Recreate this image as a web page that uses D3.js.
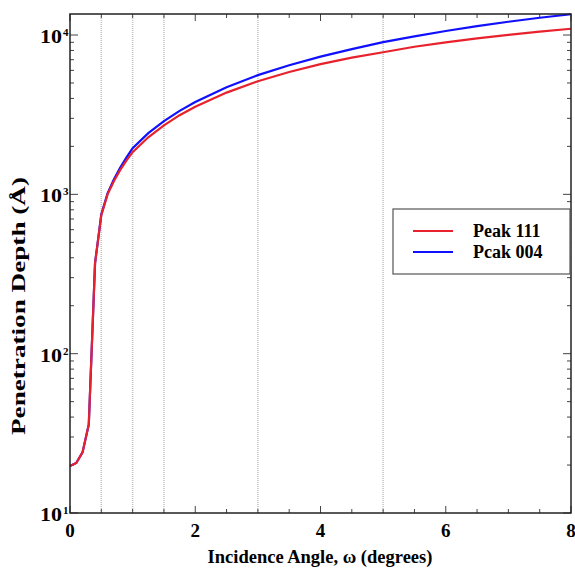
<!DOCTYPE html>
<html><head><meta charset="utf-8">
<script src="https://cdn.jsdelivr.net/npm/d3@7"></script>
<style>body{margin:0;background:#fff}svg{display:block}text{font-family:"Liberation Serif","Times New Roman",serif;font-weight:bold;fill:#000}</style>
</head><body>
<svg id="c" width="575" height="570"></svg>
<script>
// Incidence angle (degrees)
const omega = [0,0.1,0.2,0.3,0.4,0.5,0.6,0.7,0.8,0.9,1,1.25,1.5,1.75,2,2.5,3,3.5,4,4.5,5,5.5,6,6.5,7,7.5,8];
// Penetration depth (Å), Peak 111
const peak111 = [19.7,20.6,24,36,370,740,1000,1210,1420,1630,1840,2280,2710,3140,3550,4350,5130,5860,6560,7220,7800,8440,9000,9530,10030,10490,10950];
// Penetration depth (Å), Peak 004
const peak004 = [19.7,20.6,24,36,370,750,1015,1240,1470,1700,1950,2420,2880,3340,3800,4700,5600,6460,7320,8160,9020,9800,10600,11360,12120,12840,13500];
const seriesNames = ["Peak 111","Pcak 004"];
const xTicks = [0,2,4,6,8];
const yTickExp = [1,2,3,4];
const gridAt = [0.5,1,1.5,3,5];

const svg = d3.select("#c");
const L=70,R=571,T=14,B=513;
const x = d3.scaleLinear().domain([0,8]).range([L,R]);
const y = d3.scaleLog().domain([10,13550]).range([B,T]);

// grid
svg.append("g").selectAll("line").data(gridAt).join("line")
  .attr("x1",d=>x(d)).attr("x2",d=>x(d)).attr("y1",T).attr("y2",B)
  .attr("stroke","#c4c4c4").attr("stroke-width",1.6).attr("stroke-dasharray","1,1");

// ticks
const tc="#444";
const xMinor = d3.range(0,8.01,0.5);
const gt = svg.append("g").attr("stroke",tc).attr("stroke-width",1);
xMinor.forEach(v=>{
  const len = xTicks.includes(v)?7:4;
  gt.append("line").attr("x1",x(v)).attr("x2",x(v)).attr("y1",B).attr("y2",B-len);
  gt.append("line").attr("x1",x(v)).attr("x2",x(v)).attr("y1",T).attr("y2",T+len);
});
const yAll = [];
for(let e=1;e<=4;e++){ for(let m=1;m<=9;m++){ const v=m*Math.pow(10,e); if(v<=13550) yAll.push([v,m===1]); } }
yAll.forEach(([v,maj])=>{
  const len = maj?8:4;
  gt.append("line").attr("x1",L).attr("x2",L+len).attr("y1",y(v)).attr("y2",y(v));
  gt.append("line").attr("x1",R).attr("x2",R-len).attr("y1",y(v)).attr("y2",y(v));
});

// curves
const line = d3.line().x((d,i)=>x(omega[i])).y(d=>y(d));
svg.append("path").datum(peak004).attr("d",line).attr("fill","none").attr("stroke","#1010ff").attr("stroke-width",2.2);
svg.append("path").datum(peak111).attr("d",line).attr("fill","none").attr("stroke","#e8222c").attr("stroke-width",2.2);

// frame
svg.append("rect").attr("x",L).attr("y",T).attr("width",R-L).attr("height",B-T)
  .attr("fill","none").attr("stroke","#222").attr("stroke-width",1.5);

// x tick labels
svg.append("g").selectAll("text").data(xTicks).join("text")
  .attr("x",d=>x(d)).attr("y",537).attr("text-anchor","middle").attr("font-size",19).text(d=>d);

// y tick labels
yTickExp.forEach(e=>{
  const yy = y(Math.pow(10,e));
  svg.append("text").attr("x",40).attr("y",yy+8).attr("font-size",18)
    .attr("textLength",22).attr("lengthAdjust","spacingAndGlyphs").text("10");
  svg.append("text").attr("x",63).attr("y",yy+1).attr("font-size",11).text(e);
});

// axis titles
svg.append("text").attr("x",320).attr("y",563).attr("text-anchor","middle").attr("font-size",18.5)
  .text("Incidence Angle, \u03c9 (degrees)");
svg.append("text").attr("transform","translate(25,306) rotate(-90)").attr("text-anchor","middle")
  .attr("font-size",18).attr("textLength",258).attr("lengthAdjust","spacingAndGlyphs")
  .text("Penetration Depth (\u00c5)");

// legend
const lg = svg.append("g");
lg.append("rect").attr("x",393).attr("y",209).attr("width",177).attr("height",65)
  .attr("fill","#fff").attr("stroke","#555").attr("stroke-width",1.2);
const lcol=["#e8222c","#1010ff"];
seriesNames.forEach((n,i)=>{
  const yy = 231 + i*21;
  lg.append("line").attr("x1",413).attr("x2",453).attr("y1",yy).attr("y2",yy).attr("stroke",lcol[i]).attr("stroke-width",2.2);
  lg.append("text").attr("x",473).attr("y",yy+6).attr("font-size",18).text(n);
});
</script>
</body></html>
